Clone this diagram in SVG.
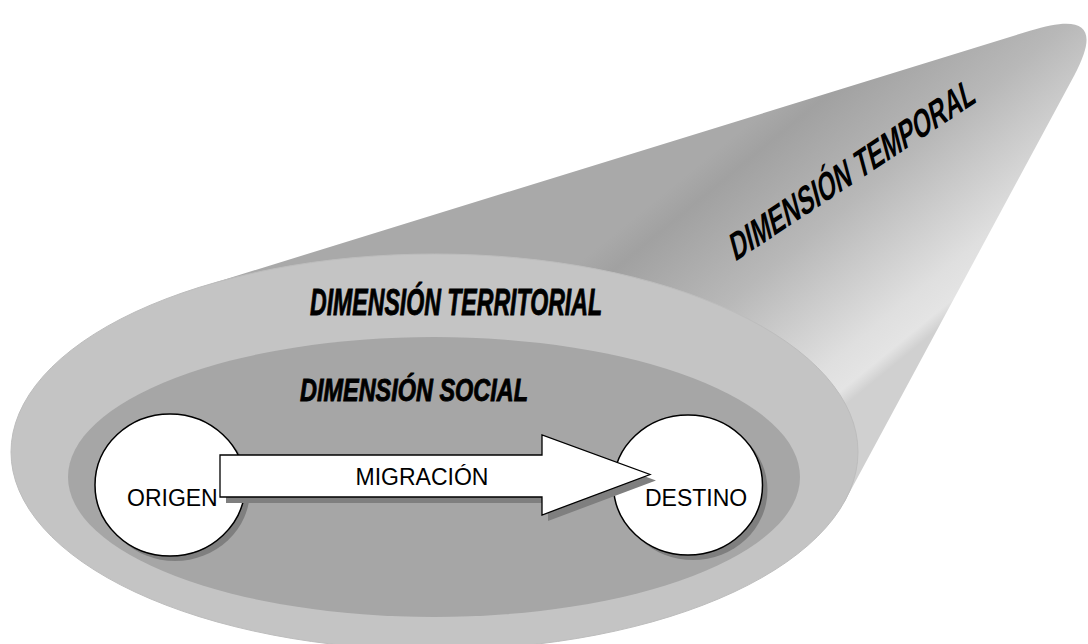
<svg xmlns="http://www.w3.org/2000/svg" width="1088" height="644" viewBox="0 0 1088 644">
  <style>
    .node-label { font-family: "Liberation Sans", Arial, sans-serif; font-size: 23px; fill: #000; }
    .dim-label { font-family: "Liberation Sans", Arial, sans-serif; font-weight: bold; font-style: italic; fill: #000; stroke: #000; stroke-width: 0.9; }
    .temp-label { font-family: "Liberation Sans", Arial, sans-serif; font-weight: bold; font-size: 37px; fill: #000; }
    .circle { fill: #ffffff; stroke: #000000; stroke-width: 1.5; }
    .shadow { fill: #7f7f7f; }
    .arrow { fill: #ffffff; stroke: #000000; stroke-width: 1.3; stroke-linejoin: miter; }
  </style>
  <defs>
    <linearGradient id="coneGrad" gradientUnits="userSpaceOnUse" x1="760" y1="114" x2="937" y2="330">
      <stop offset="0" stop-color="#a9a9a9"/>
      <stop offset="0.1" stop-color="#a1a1a1"/>
      <stop offset="0.45" stop-color="#b8b8b8"/>
      <stop offset="0.85" stop-color="#dfdfdf"/>
      <stop offset="0.95" stop-color="#e4e4e4"/>
      <stop offset="1" stop-color="#d0d0d0"/>
    </linearGradient>
  </defs>

  <g id="dimension-temporal">
    <path d="M 200.7,286.9 L 1030,30.7 C 1085,13.7 1100,27 1074.5,75 L 845.2,500.4 Z" fill="url(#coneGrad)"/>
    <text class="temp-label" transform="translate(735,262) rotate(-33.5) skewX(-18.5)" textLength="290" lengthAdjust="spacingAndGlyphs">DIMENSIÓN TEMPORAL</text>
  </g>

  <g id="dimension-territorial">
    <ellipse cx="434.5" cy="452" rx="423.5" ry="198" fill="#c4c4c4" stroke="#bdbdbd" stroke-width="1"/>
    <text class="dim-label" x="310" y="315" font-size="37" textLength="292" lengthAdjust="spacingAndGlyphs">DIMENSIÓN TERRITORIAL</text>
  </g>

  <g id="dimension-social">
    <ellipse cx="434" cy="477" rx="366" ry="140" fill="#a6a6a6"/>
    <text class="dim-label" x="300" y="401" font-size="31.5" textLength="228" lengthAdjust="spacingAndGlyphs">DIMENSIÓN SOCIAL</text>
  </g>

  <g id="origen">
    <ellipse class="shadow" cx="175" cy="490" rx="75" ry="71"/>
    <ellipse class="circle" cx="170" cy="485" rx="75" ry="71"/>
  </g>

  <g id="destino">
    <ellipse class="shadow" cx="693" cy="490" rx="74.5" ry="70"/>
    <ellipse class="circle" cx="688" cy="485" rx="74.5" ry="70"/>
    <text class="node-label" x="645" y="506">DESTINO</text>
  </g>

  <g id="connectors">
    <polygon class="shadow" points="226,461 548,461 548,441 656,480.5 548,521 548,503 226,503"/>
    <polygon class="arrow" points="220,455 542,455 542,435 650,474.5 542,515 542,497 220,497"/>
    <text class="node-label" x="422" y="485" text-anchor="middle">MIGRACIÓN</text>
  </g>

  <g id="origen-label">
    <text class="node-label" x="127" y="506">ORIGEN</text>
  </g>
</svg>
